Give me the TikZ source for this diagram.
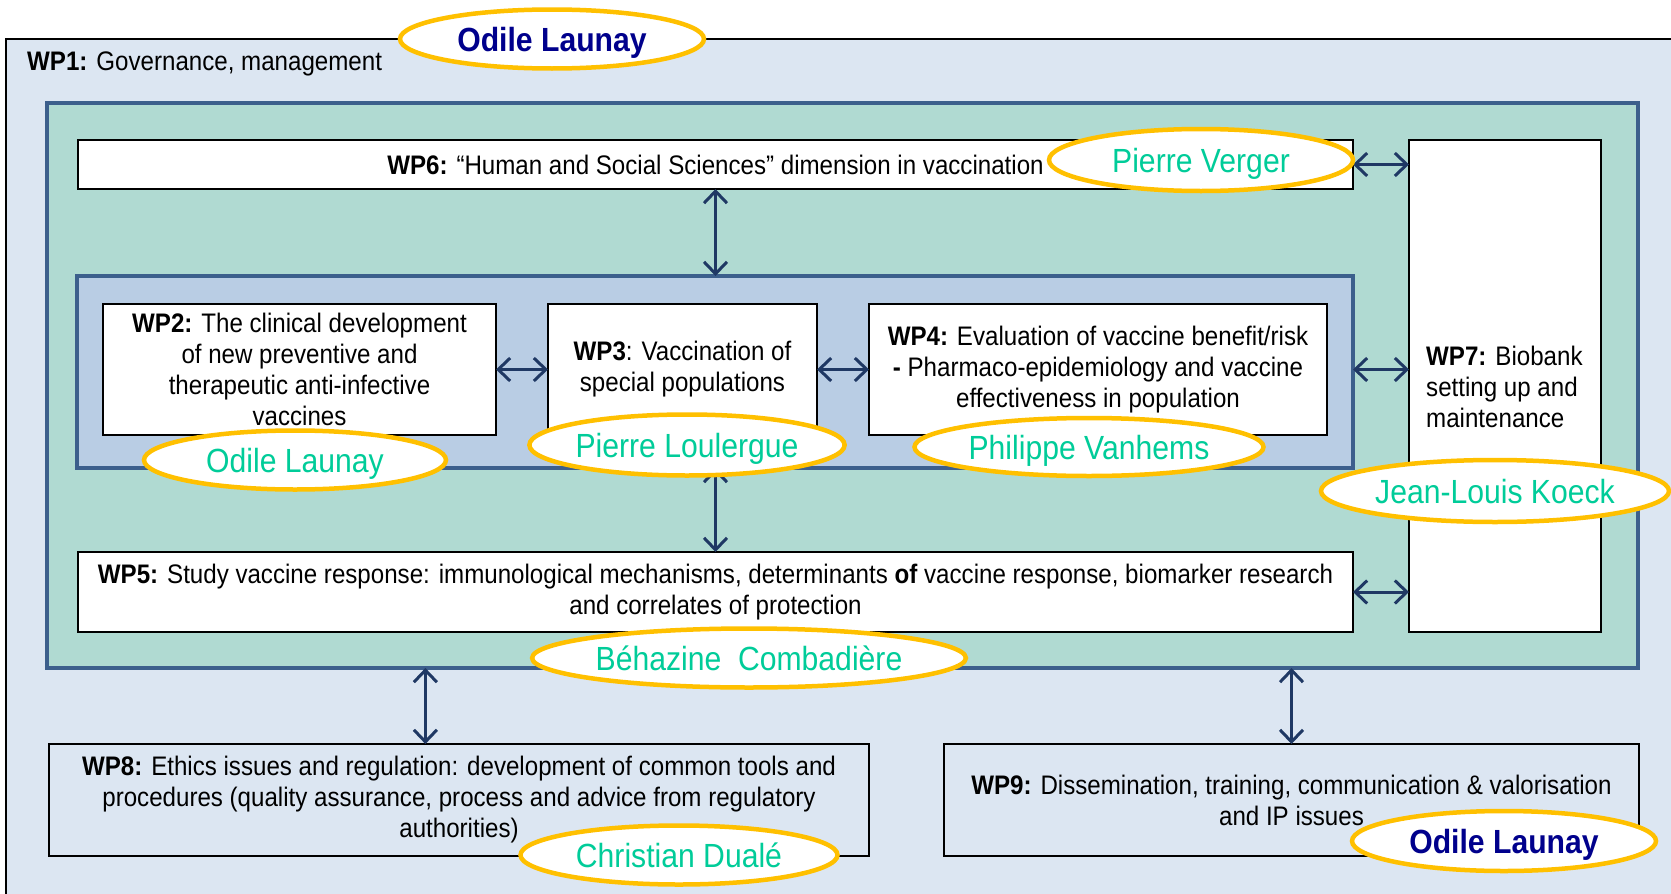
\documentclass[tikz,border=0pt]{standalone}
\usepackage{fontspec}
\setmainfont{Liberation Sans}[FakeStretch=0.9]
\usetikzlibrary{shapes.geometric,arrows.meta,calc}
\definecolor{bgblue}{RGB}{220,230,242}
\definecolor{tealfill}{RGB}{176,218,210}
\definecolor{innerblue}{RGB}{185,205,228}
\definecolor{frameblue}{RGB}{60,95,140}
\definecolor{arrowblue}{RGB}{31,56,100}
\definecolor{goldline}{RGB}{255,192,0}
\definecolor{namegreen}{RGB}{0,204,153}
\definecolor{navyname}{RGB}{0,0,140}
\newcommand\wpfont{\fontsize{26.8}{31}\selectfont}
\newcommand\namefont{\fontsize{33.5}{38}\selectfont}
\begin{document}
\begin{tikzpicture}[x=1pt,y=-1pt,
  wpbox/.style={draw=black, line width=2pt, fill=white, inner sep=0pt, outer sep=0pt, align=center, font=\wpfont},
  frame/.style={draw=frameblue, line width=3.5pt, inner sep=0pt, outer sep=0pt},
  person/.style={ellipse, draw=goldline, line width=4.5pt, fill=white, inner sep=0pt, outer sep=0pt, font=\namefont, text=namegreen, text height=24pt, text depth=0pt},
  lead/.style={person, text=navyname, font=\namefont\bfseries},
  arr/.style={draw=arrowblue, line width=3pt, {Straight Barb[length=12pt,width=23pt]}-{Straight Barb[length=12pt,width=23pt]}}
]
\clip (0,0) rectangle (1671,894);
\fill[white] (0,0) rectangle (1671,894);
% WP1 outer frame
\draw[draw=black, line width=2pt, fill=bgblue] (6,39) rectangle (1700,920);
\node[anchor=west, inner sep=0pt, font=\wpfont] (wp1) at (27,64) {\textbf{WP1:} Governance, management};
% teal frame
\node[frame, fill=tealfill, minimum width=1591pt, minimum height=565pt] (teal) at (842.5,385.5) {};
% inner frame
\node[frame, fill=innerblue, minimum width=1276pt, minimum height=192pt] (inner) at (715,372) {};
% boxes
\node[wpbox, minimum width=1275pt, minimum height=49pt] (wp6) at (715.5,164.5)
  {\textbf{WP6:} “Human and Social Sciences” dimension in vaccination};
\node[wpbox, minimum width=192pt, minimum height=492pt] (wp7) at (1505,386) {};
\node[anchor=west, inner sep=0pt, align=left, font=\wpfont] (wp7t) at (1426,387)
  {\textbf{WP7:} Biobank\\setting up and\\maintenance};
\node[wpbox, minimum width=393pt, minimum height=131pt] (wp2) at (299.5,369.5)
  {\textbf{WP2:} The clinical development\\of new preventive and\\therapeutic anti-infective\\vaccines};
\node[wpbox, minimum width=269pt, minimum height=131pt] (wp3) at (682.5,369.5)
  {\textbf{WP3}: Vaccination of\\special populations};
\node[wpbox, minimum width=458pt, minimum height=131pt] (wp4) at (1098,369.5)
  {\textbf{WP4:} Evaluation of vaccine benefit/risk\\\textbf{-} Pharmaco-epidemiology and vaccine\\effectiveness in population};
\node[wpbox, minimum width=1275pt, minimum height=80pt] (wp5) at (715.5,592)
  {\textbf{WP5:} Study vaccine response: immunological mechanisms, determinants \textbf{of} vaccine response, biomarker research\\and correlates of protection};
\node[wpbox, fill=bgblue, minimum width=820pt, minimum height=112pt] (wp8) at (459,800)
  {\textbf{WP8:} Ethics issues and regulation: development of common tools and\\procedures (quality assurance, process and advice from regulatory\\authorities)};
\node[wpbox, fill=bgblue, minimum width=695pt, minimum height=112pt] (wp9) at (1291.5,800)
  {\textbf{WP9:} Dissemination, training, communication \& valorisation\\and IP issues};
% connectors
\draw[arr] (wp6.east) -- (wp6.east -| wp7.west);
\draw[arr] (wp3.center -| inner.east) -- (wp3.center -| wp7.west);
\draw[arr] (wp5.east) -- (wp5.east -| wp7.west);
\draw[arr] (wp2.east) -- (wp3.west);
\draw[arr] (wp3.east) -- (wp4.west);
\draw[arr] (wp6.south) -- (wp6.south |- inner.north);
\draw[arr] (wp5.north |- inner.south) -- (wp5.north);
\coordinate (c8) at ($(wp8.north west)!0.459!(wp8.north east)$);
\draw[arr] (c8 |- teal.south) -- (c8);
\draw[arr] (wp9.north |- teal.south) -- (wp9.north);
% people
\node[lead, minimum width=304pt, minimum height=59pt] (p1) at (552,39) {Odile Launay};
\node[person, minimum width=304pt, minimum height=62pt] (p6) at (1201,160) {Pierre Verger};
\node[person, minimum width=348pt, minimum height=62pt] (p7) at (1495,491) {Jean-Louis Koeck};
\node[person, minimum width=302pt, minimum height=59pt] (p2) at (295,460) {Odile Launay};
\node[person, minimum width=303pt, minimum height=61pt] (p3) at (687,445) {Pierre Loulergue};
\node[person, minimum width=349pt, minimum height=58pt] (p4) at (1089,447) {Philippe Vanhems};
\node[person, minimum width=394pt, minimum height=59pt] (p5) at (749,658) {Béhazine\ \ Combadière};
\node[person, minimum width=317pt, minimum height=59pt] (p8) at (679,855) {Christian Dualé};
\node[lead, minimum width=304pt, minimum height=60pt] (p9) at (1504,841) {Odile Launay};
\end{tikzpicture}
\end{document}
